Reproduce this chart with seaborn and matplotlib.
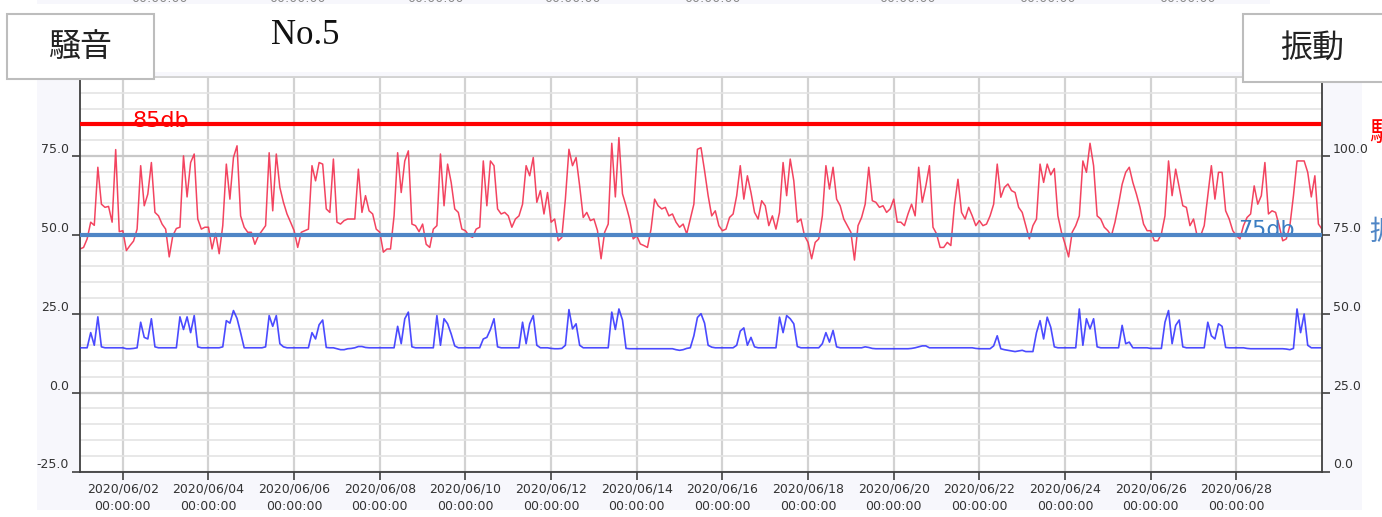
import matplotlib

matplotlib.use("Agg")
import matplotlib.dates as mdates
import matplotlib.pyplot as plt
import pandas as pd
import seaborn as sns
from matplotlib.patches import Rectangle
from matplotlib.ticker import MultipleLocator

sns.set_theme(style="ticks")
plt.rcParams["font.family"] = ["DejaVu Sans", "Noto Sans CJK JP"]

W, H = 1382, 517

START = "2020-06-01 00:00"
STEP = "2h"

# noise level (left axis), 12 readings a day from 06/01 00:00
noise_db = [
    45.5, 46.0, 48.7, 54.0, 53.0, 71.4, 59.7, 58.7, 59.0, 54.0, 77.0, 51.0,
    51.3, 45.0, 46.6, 48.0, 51.8, 71.9, 59.2, 62.9, 72.9, 57.1, 56.0, 53.4,
    51.8, 43.0, 49.7, 52.0, 52.4, 75.0, 62.0, 72.9, 75.6, 55.0, 51.8, 52.4,
    52.4, 45.5, 50.5, 44.0, 52.9, 72.4, 61.3, 74.5, 78.2, 56.0, 52.4, 50.8,
    50.8, 47.0, 49.7, 51.3, 52.9, 76.0, 57.6, 75.6, 65.0, 60.3, 56.6, 54.0,
    51.3, 46.0, 50.8, 51.3, 51.8, 71.9, 67.1, 72.9, 72.4, 58.2, 57.1, 74.0,
    54.0, 53.4, 54.5, 55.0, 55.0, 55.0, 70.8, 57.1, 62.4, 57.6, 56.6, 51.8,
    50.8, 44.5, 45.5, 45.5, 56.0, 76.0, 63.4, 73.4, 76.6, 53.4, 52.9, 51.0,
    53.4, 47.0, 46.0, 51.8, 52.9, 75.6, 59.2, 72.4, 66.6, 58.2, 57.1, 51.8,
    51.3, 49.7, 49.2, 51.8, 52.4, 73.4, 59.2, 73.4, 71.9, 58.2, 56.6, 57.1,
    56.0, 52.4, 55.0, 56.0, 59.7, 71.9, 68.7, 74.5, 60.3, 64.0, 56.6, 63.4,
    54.0, 55.0, 48.1, 49.2, 61.3, 77.1, 71.9, 74.5, 65.5, 55.5, 57.1, 54.5,
    55.0, 51.3, 42.4, 50.8, 53.4, 79.0, 62.0, 80.8, 63.0, 59.2, 55.0, 48.7,
    49.7, 47.1, 46.6, 46.0, 51.8, 61.3, 59.2, 58.2, 58.7, 56.0, 56.6, 54.0,
    52.4, 53.4, 50.3, 55.0, 59.7, 77.1, 77.6, 70.3, 62.4, 56.0, 57.6, 52.9,
    51.3, 51.8, 55.5, 56.6, 62.4, 71.9, 61.3, 68.7, 63.4, 57.1, 55.0, 60.8,
    59.2, 52.9, 56.0, 51.8, 57.1, 72.9, 62.4, 74.0, 67.1, 54.0, 55.0, 49.7,
    47.6, 42.4, 47.6, 48.7, 56.0, 71.9, 64.5, 71.4, 61.3, 59.2, 55.0, 52.9,
    50.8, 42.0, 52.9, 55.5, 59.7, 71.4, 60.8, 60.3, 58.7, 59.2, 57.1, 58.2,
    61.3, 54.0, 54.0, 52.9, 56.6, 59.7, 56.0, 71.4, 60.3, 65.5, 71.9, 52.4,
    50.3, 46.0, 46.0, 47.6, 46.6, 59.2, 67.6, 57.1, 55.0, 58.7, 56.0, 52.9,
    54.5, 52.9, 53.4, 56.0, 59.7, 72.4, 61.9, 65.0, 66.1, 64.0, 63.4, 58.7,
    57.1, 52.9, 48.7, 52.9, 55.0, 72.4, 66.6, 72.4, 69.0, 71.0, 56.0, 50.8,
    47.1, 43.0, 50.8, 52.9, 56.0, 73.4, 69.8, 79.0, 71.9, 56.0, 55.0, 52.4,
    51.3, 49.7, 54.0, 59.7, 66.0, 69.8, 71.4, 66.6, 62.9, 58.7, 53.4, 51.3,
    51.3, 48.1, 48.1, 50.3, 56.0, 73.4, 62.4, 70.8, 65.0, 59.2, 58.7, 52.9,
    55.0, 49.7, 49.7, 52.9, 62.4, 71.9, 61.3, 69.8, 69.8, 57.6, 55.0, 51.3,
    49.7, 48.7, 52.9, 55.5, 56.6, 65.5, 59.7, 62.4, 72.9, 56.6, 57.6, 57.1,
    52.9, 48.1, 48.7, 52.9, 62.4, 73.4, 73.4, 73.4, 69.8, 62.0, 68.7, 53.4,
    51.8,
]

# vibration level (right axis), same timestamps
vibration_db = [
    39.2, 39.2, 39.2, 44.0, 40.0, 49.0, 39.5, 39.2, 39.2, 39.2, 39.2, 39.2,
    39.2, 38.9, 38.9, 39.0, 39.2, 47.3, 42.5, 42.0, 48.4, 39.5, 39.2, 39.2,
    39.2, 39.2, 39.2, 39.2, 49.0, 45.0, 49.0, 44.0, 49.4, 39.5, 39.2, 39.2,
    39.2, 39.2, 39.2, 39.2, 39.5, 47.8, 47.0, 51.0, 48.5, 44.0, 39.2, 39.2,
    39.2, 39.2, 39.2, 39.2, 39.5, 49.4, 46.0, 49.4, 40.5, 39.5, 39.2, 39.2,
    39.2, 39.2, 39.2, 39.2, 39.2, 44.0, 42.0, 46.5, 48.0, 39.3, 39.2, 39.2,
    38.9, 38.6, 38.6, 38.9, 39.0, 39.2, 39.6, 39.6, 39.3, 39.2, 39.2, 39.2,
    39.2, 39.2, 39.2, 39.2, 39.2, 46.0, 40.5, 48.4, 50.5, 39.5, 39.2, 39.2,
    39.2, 39.2, 39.2, 39.2, 49.4, 40.0, 48.4, 46.8, 43.6, 39.8, 39.2, 39.2,
    39.2, 39.2, 39.2, 39.2, 39.2, 42.0, 42.5, 45.0, 48.4, 39.5, 39.2, 39.2,
    39.2, 39.2, 39.2, 39.2, 47.3, 40.5, 46.8, 49.4, 40.0, 39.2, 39.2, 39.2,
    39.0, 38.9, 38.9, 39.0, 40.0, 51.3, 45.2, 46.8, 40.0, 39.2, 39.2, 39.2,
    39.2, 39.2, 39.2, 39.2, 39.2, 50.5, 45.0, 51.5, 48.0, 39.0, 38.9, 38.9,
    38.9, 38.9, 38.9, 38.9, 38.9, 38.9, 38.9, 38.9, 38.9, 38.9, 38.9, 38.6,
    38.4, 38.6, 39.0, 39.2, 43.0, 48.8, 50.0, 47.0, 40.0, 39.4, 39.2, 39.2,
    39.2, 39.2, 39.2, 39.2, 40.0, 44.5, 45.5, 40.0, 42.5, 39.5, 39.2, 39.2,
    39.2, 39.2, 39.2, 39.2, 48.9, 44.0, 49.4, 48.4, 46.8, 39.6, 39.2, 39.2,
    39.2, 39.2, 39.2, 39.2, 40.5, 44.0, 41.0, 44.7, 39.5, 39.2, 39.2, 39.2,
    39.2, 39.2, 39.2, 39.2, 39.5, 39.3, 39.0, 38.9, 38.9, 38.9, 38.9, 38.9,
    38.9, 38.9, 38.9, 38.9, 38.9, 39.0, 39.2, 39.5, 39.8, 39.8, 39.2, 39.2,
    39.2, 39.2, 39.2, 39.2, 39.2, 39.2, 39.2, 39.2, 39.2, 39.2, 39.2, 39.0,
    38.9, 38.9, 38.9, 38.9, 39.8, 43.0, 38.9, 38.6, 38.4, 38.2, 38.0, 38.2,
    38.4, 38.0, 38.0, 38.0, 44.0, 47.8, 42.0, 48.9, 45.7, 39.5, 39.2, 39.2,
    39.2, 39.2, 39.2, 39.2, 51.5, 40.0, 48.4, 45.2, 48.4, 39.5, 39.2, 39.2,
    39.2, 39.2, 39.2, 39.2, 46.3, 40.5, 41.0, 39.2, 39.2, 39.2, 39.2, 39.2,
    39.0, 39.0, 39.0, 39.0, 47.3, 51.0, 40.5, 46.3, 48.0, 39.5, 39.2, 39.2,
    39.2, 39.2, 39.2, 39.2, 47.3, 43.0, 42.0, 46.8, 46.0, 39.3, 39.2, 39.2,
    39.2, 39.2, 39.2, 39.0, 38.9, 38.9, 38.9, 38.9, 38.9, 38.9, 38.9, 38.9,
    38.9, 38.9, 38.8, 38.6, 39.0, 51.5, 44.0, 49.9, 40.0, 39.2, 39.2, 39.2,
    39.2,
]

noise_limit = 85
vibration_limit = 75
left_ticks = [-25, 0, 25, 50, 75]
right_ticks = [0, 25, 50, 75, 100]
date_ticks = pd.date_range("2020-06-02", "2020-06-28", freq="2D")
top_cut_centers = [159, 297, 435, 572, 712, 907, 1047, 1187]

NOISE_COLOR = "#f2304f"
VIB_COLOR = "#2b2bff"
LIMIT_BLUE = "#4f86c6"
AXIS_COLOR = "#404040"
PANEL_BG = "#f7f7fc"


def fx(px):
    return px / W


def fy(py):
    return 1 - py / H


def add_rect(fig, x0, y0, x1, y1, **kwargs):
    fig.add_artist(Rectangle((fx(x0), fy(y1)), (x1 - x0) / W, (y1 - y0) / H,
                             transform=fig.transFigure, **kwargs))


def add_box(fig, x0, y0, x1, y1, label):
    add_rect(fig, x0, y0, x1, y1, facecolor="white", edgecolor="#bdbdbd", linewidth=1.5, zorder=5)
    fig.text(fx((x0 + min(x1, W)) / 2), fy((y0 + y1) / 2), label, ha="center", va="center",
             fontsize=23, family=["Noto Sans CJK JP"], color="#222222", zorder=6)


def main() -> None:
    times = pd.date_range(START, periods=len(noise_db), freq=STEP)
    df = pd.DataFrame({"time": times, "noise": noise_db, "vibration": vibration_db})

    fig = plt.figure(figsize=(W / 100, H / 100), dpi=100)
    fig.patch.set_facecolor("white")
    # light panel around the plot and the thin strip at the top edge
    add_rect(fig, 37, 72, 1362, 510, facecolor=PANEL_BG, edgecolor="none", zorder=-10)
    add_rect(fig, 37, 0, 1270, 4, facecolor=PANEL_BG, edgecolor="none", zorder=-10)

    ax = fig.add_axes([fx(80), fy(471.5), 1242 / W, (471.5 - 77) / H])
    ax.set_facecolor("white")
    sns.lineplot(data=df, x="time", y="noise", ax=ax, color=NOISE_COLOR, linewidth=1.1, alpha=0.9)
    ax.axhline(noise_limit, color="#ff0000", linewidth=3, zorder=4)
    ax.text((133 - 80) / 1242, noise_limit - 0.7, "85db", transform=ax.get_yaxis_transform(),
            color="#ff0000", fontsize=16, va="baseline", ha="left")

    ax.set_xlim(times[0], times[-1])
    ax.set_ylim(-25, 100)
    ax.set_yticks(left_ticks, labels=[f"{v:.1f}" for v in left_ticks], va="bottom")
    ax.yaxis.set_minor_locator(MultipleLocator(5))
    ax.set_xticks(date_ticks)
    ax.xaxis.set_major_formatter(mdates.DateFormatter("%Y/%m/%d\n%H:%M:%S"))
    for lbl in ax.get_xticklabels():
        lbl.set_linespacing(1.45)

    ax.grid(which="minor", axis="y", color="#e4e4e4", linewidth=1.2)
    ax.grid(which="major", axis="y", color="#c8c8c8", linewidth=1.6)
    ax.grid(which="major", axis="x", color="#d2d2d2", linewidth=1.6)
    ax.set_axisbelow(True)

    ax.tick_params(axis="both", which="major", length=6, width=1.2, color=AXIS_COLOR,
                   labelsize=9, labelcolor="#333333", pad=2)
    ax.tick_params(axis="y", which="minor", length=0)
    for side in ("left", "bottom"):
        ax.spines[side].set_color(AXIS_COLOR)
        ax.spines[side].set_linewidth(1.3)
    ax.spines["top"].set_color("#d0d0d0")
    ax.spines["right"].set_visible(False)
    ax.set_xlabel("")
    ax.set_ylabel("")

    ax2 = ax.twinx()
    sns.lineplot(data=df, x="time", y="vibration", ax=ax2, color=VIB_COLOR, linewidth=1.2, alpha=0.85)
    ax2.axhline(vibration_limit, color=LIMIT_BLUE, linewidth=3, zorder=4)
    ax2.text((1238 - 80) / 1242, vibration_limit - 0.3, "75db", transform=ax2.get_yaxis_transform(),
             color="#3a7dc2", fontsize=16, va="baseline", ha="left")
    ax2.set_ylim(0, 125)
    ax2.set_yticks(right_ticks, labels=[f"{v:.1f}" for v in right_ticks], va="bottom")
    ax2.tick_params(axis="y", length=6, width=1.2, color=AXIS_COLOR, labelsize=9,
                    labelcolor="#333333", pad=2)
    ax2.grid(False)
    for side in ("left", "top", "bottom"):
        ax2.spines[side].set_visible(False)
    ax2.spines["right"].set_color(AXIS_COLOR)
    ax2.spines["right"].set_linewidth(1.3)
    ax2.set_ylabel("")
    ax2.set_xlim(times[0], times[-1])

    # header boxes and title
    add_box(fig, 7, 14, 154, 79, "騒音")
    add_box(fig, 1243, 14, 1390, 82, "振動")
    fig.text(fx(305), fy(35), "No.5", ha="center", va="center", fontsize=25,
             family=["Liberation Serif"], color="#111111")

    # labels cut off by the edges of the screenshot, as in the source image
    fig.text(fx(1369), fy(133), "騒音", color="#ff0000", fontsize=20,
             family=["Noto Sans CJK JP"], ha="left", va="center")
    fig.text(fx(1369), fy(232), "振動", color=LIMIT_BLUE, fontsize=20,
             family=["Noto Sans CJK JP"], ha="left", va="center")
    for cx in top_cut_centers:
        fig.text(fx(cx), fy(-1), "00:00:00", color="#8a8a8a", fontsize=9, ha="center", va="center")

    fig.savefig("out.png", dpi=100)
    plt.close(fig)


if __name__ == "__main__":
    main()
